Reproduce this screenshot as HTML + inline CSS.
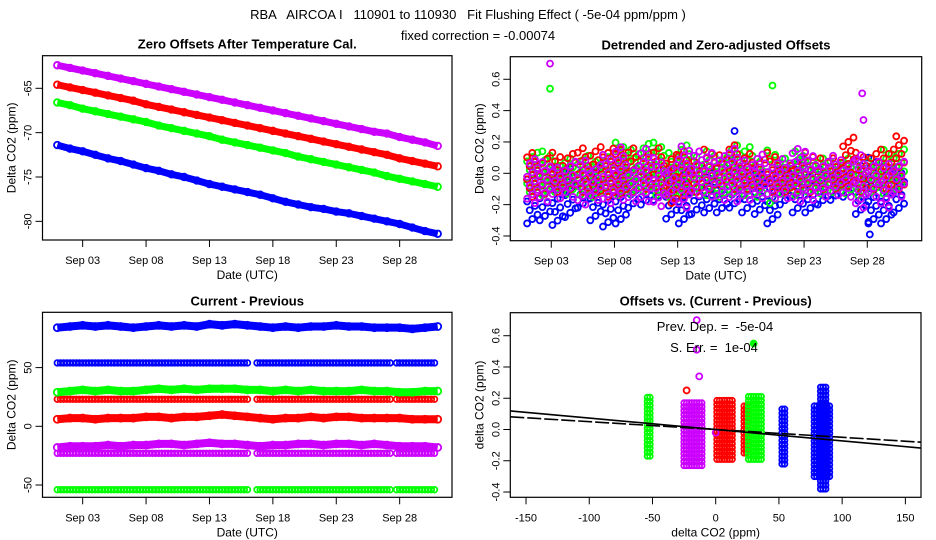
<!DOCTYPE html>
<html><head><meta charset="utf-8"><style>
body{margin:0;background:#fff}
svg{display:block;font-family:"Liberation Sans",sans-serif}
</style></head><body>
<svg id="c" width="936" height="540" viewBox="0 0 936 540">
<text x="468" y="19" text-anchor="middle" font-size="13" style="white-space:pre">RBA   AIRCOA I   110901 to 110930   Fit Flushing Effect ( -5e-04 ppm/ppm )</text>
<text x="478" y="40" text-anchor="middle" font-size="13">fixed correction = -0.00074</text>
</svg>
<script>
// ---- Panel 1 data (daily, Sep 1..Sep 31)
const p1Purple=[-62.4,-62.7,-63.0,-63.3,-63.6,-63.9,-64.2,-64.5,-64.8,-65.1,-65.4,-65.7,-66.0,-66.3,-66.6,-66.9,-67.2,-67.5,-67.8,-68.1,-68.4,-68.7,-69.0,-69.3,-69.6,-69.9,-70.1,-70.5,-70.8,-71.1,-71.5];
const p1Red=[-64.6,-64.9,-65.2,-65.5,-65.8,-66.1,-66.4,-66.8,-67.1,-67.4,-67.7,-68.0,-68.3,-68.6,-68.9,-69.2,-69.5,-69.8,-70.1,-70.4,-70.7,-71.0,-71.3,-71.6,-71.9,-72.2,-72.5,-72.9,-73.2,-73.5,-73.8];
const p1Green=[-66.6,-66.9,-67.3,-67.6,-67.9,-68.2,-68.5,-68.8,-69.2,-69.5,-69.8,-70.1,-70.4,-70.8,-71.1,-71.4,-71.7,-72.0,-72.3,-72.7,-73.0,-73.3,-73.6,-73.9,-74.2,-74.5,-74.9,-75.2,-75.5,-75.8,-76.1];
const p1Blue=[-71.4,-71.8,-72.1,-72.5,-72.9,-73.2,-73.6,-74.0,-74.3,-74.7,-75.0,-75.4,-75.8,-76.1,-76.4,-76.7,-77.0,-77.4,-77.8,-78.1,-78.4,-78.6,-78.9,-79.1,-79.4,-79.7,-80.0,-80.3,-80.7,-81.1,-81.4];
const p1YTicks=[-65,-70,-75,-80];
const dateTicks=[2,7,12,17,22,27];
const dateLabels=["Sep 03","Sep 08","Sep 13","Sep 18","Sep 23","Sep 28"];
// ---- Panel 2 data (daily envelopes)
const p2BlueLo=[-0.32,-0.3,-0.33,-0.28,-0.22,-0.3,-0.34,-0.32,-0.22,-0.2,-0.17,-0.29,-0.32,-0.26,-0.25,-0.25,-0.22,-0.25,-0.26,-0.32,-0.2,-0.25,-0.25,-0.2,-0.17,-0.15,-0.26,-0.32,-0.32,-0.25,-0.22];
const p2BlueHi=[0.08,0.05,0.05,0.03,0.02,0.04,0.05,0.03,0.05,0.04,0.05,0.03,0.05,0.04,0.05,0.03,0.1,0.05,0.04,0.03,0.05,0.1,0.04,0.05,0.04,0.03,0.05,0.1,0.05,0.04,0.05];
const p2GreenLo=[-0.12,-0.14,-0.12,-0.13,-0.14,-0.15,-0.12,-0.14,-0.13,-0.12,-0.14,-0.15,-0.13,-0.12,-0.14,-0.15,-0.13,-0.14,-0.15,-0.19,-0.13,-0.14,-0.12,-0.13,-0.12,-0.13,-0.14,-0.12,-0.13,-0.1,-0.1];
const p2GreenHi=[0.14,0.16,0.08,0.12,0.13,0.1,0.12,0.2,0.15,0.2,0.21,0.15,0.2,0.12,0.15,0.12,0.2,0.17,0.08,0.16,0.1,0.15,0.1,0.12,0.1,0.12,0.08,0.1,0.15,0.17,0.1];
const p2RedLo=[-0.15,-0.13,-0.12,-0.1,-0.12,-0.14,-0.15,-0.13,-0.12,-0.1,-0.12,-0.19,-0.14,-0.12,-0.1,-0.08,-0.1,-0.1,-0.08,-0.12,-0.12,-0.1,-0.12,-0.1,-0.1,-0.08,-0.12,-0.1,-0.1,-0.1,-0.12];
const p2RedHi=[0.13,0.1,0.14,0.14,0.18,0.17,0.17,0.17,0.18,0.15,0.17,0.12,0.14,0.1,0.17,0.13,0.2,0.15,0.1,0.15,0.06,0.08,0.14,0.12,0.1,0.25,0.14,0.13,0.16,0.24,0.14];
const p2PurpleLo=[-0.19,-0.18,-0.16,-0.15,-0.2,-0.17,-0.19,-0.17,-0.18,-0.18,-0.21,-0.17,-0.22,-0.14,-0.15,-0.17,-0.18,-0.17,-0.16,-0.16,-0.16,-0.18,-0.17,-0.15,-0.14,-0.15,-0.22,-0.15,-0.22,-0.15,-0.18];
const p2PurpleHi=[0.1,0.08,0.05,0.08,0.1,0.08,0.12,0.18,0.05,0.17,0.12,0.08,0.18,0.14,0.13,0.12,0.16,0.1,0.12,0.08,0.1,0.18,0.14,0.1,0.12,0.1,0.13,0.1,0.08,0.1,0.15];
const p2OutT=[1.9,1.9,19.5,16.5,26.6,26.7,27.2,27.1];
const p2OutV=[0.7,0.54,0.56,0.27,0.51,0.34,-0.39,-0.31];
const p2OutC=["#c0f","#0f0","#0f0","#00f","#c0f","#c0f","#00f","#00f"];
const p2YTicks=[0.6,0.4,0.2,0.0,-0.2,-0.4];
const p2YLabels=["0.6","0.4","0.2","0.0","-0.2","-0.4"];
// ---- Panel 3 data
const p3BlueTop=[84,85,86,85,86,85,84,85,86,85,86,85,87,86,87,86,85,84,85,84,85,85,86,85,85,84,84,84,83,84,85];
const p3GreenTop=[29,30,31,30,31,30,30,31,32,31,32,31,32,32,32,31,31,30,31,30,31,30,30,30,31,30,30,29,29,30,30];
const p3RedLow=[6,7,7,6,7,7,7,8,8,7,8,8,9,10,9,8,7,6,7,7,8,7,8,8,7,7,7,7,6,6,6];
const p3PurpleTop=[-18,-17,-17,-17,-16,-17,-16,-16,-15,-15,-16,-15,-14,-15,-15,-16,-17,-16,-16,-15,-15,-16,-15,-15,-16,-15,-16,-17,-17,-17,-18];
const p3Levels=[54,23,-54,-23];
const p3LevelColors=["#00f","#f00","#0f0","#c0f"];
const p3YTicks=[50,0,-50];
// ---- Panel 4 data (columns)
const p4ColX=[-53,-18,7,24,31,54,84,85];
const p4ColW=[2,14,12,3,10,3,12,4];
const p4ColLo=[-0.17,-0.23,-0.19,-0.15,-0.19,-0.22,-0.3,-0.38];
const p4ColHi=[0.21,0.19,0.2,0.15,0.22,0.13,0.15,0.27];
const p4ColC=["#0f0","#c0f","#f00","#f00","#0f0","#00f","#00f","#00f"];
const p4OutX=[-15,-15,-13,0,30,-23];
const p4OutY=[0.7,0.51,0.34,-0.02,0.55,0.25];
const p4OutC=["#c0f","#c0f","#c0f","#c0f","#0f0","#f00"];
const p4XTicks=[-150,-100,-50,0,50,100,150];
const p4Slopes=[-0.00073,-0.0005];
const p4YTicks=[0.6,0.4,0.2,0.0,-0.2,-0.4];

const NS="http://www.w3.org/2000/svg";
const svg=document.getElementById('c');
function mk(tag,attrs,parent){const e=document.createElementNS(NS,tag);for(const k in attrs)e.setAttribute(k,attrs[k]);(parent||svg).appendChild(e);return e;}
function grp(name){const g=mk('g',{});


return g;}

function frame(g,x0,x1,y0,y1,title,xlabel,ylabel,xt,xl,xs,yt,yl,ys){
  const b=mk('rect',{x:x0,y:y0,width:x1-x0,height:y1-y0,fill:'none',stroke:'#000','stroke-width':1.2},g);
  
  
  const t=mk('text',{x:(x0+x1)/2,y:y0-7,'text-anchor':'middle','font-size':13,'font-weight':'bold'},g);t.textContent=title;
  
  
  xt.forEach((v,i)=>{const x=xs(v);mk('line',{x1:x,x2:x,y1:y1,y2:y1+7,stroke:'#000'},g);
    const tx=mk('text',{x:x,y:y1+24,'text-anchor':'middle','font-size':11},g);tx.textContent=xl[i];
    
    });
  yt.forEach((v,i)=>{const y=ys(v);mk('line',{x1:x0,x2:x0-7,y1:y,y2:y,stroke:'#000'},g);
    const tx=mk('text',{x:0,y:0,'text-anchor':'middle','font-size':11,transform:`translate(${x0-11},${y}) rotate(-90)`},g);tx.textContent=yl[i];
    
    });
  const xa=mk('text',{x:(x0+x1)/2,y:y1+39,'text-anchor':'middle','font-size':12},g);xa.textContent=xlabel;
  
  
  const ya=mk('text',{x:0,y:0,'text-anchor':'middle','font-size':12,transform:`translate(${x0-27},${(y0+y1)/2}) rotate(-90)`},g);ya.textContent=ylabel;
  
  
}
function circ(g,x,y,c,r,fill){const e=mk('circle',{cx:x,cy:y,r:r||3,fill:fill?c:'none',stroke:c,'stroke-width':1.8},g);return e;}

// Panel 1
(function(){
 const g=grp('panel-zero-offsets');
 const xs=t=>57.3+t*12.68, ys=v=>88.3+(-65-v)*8.87;
 frame(g,42.5,452,55.7,240,'Zero Offsets After Temperature Cal.','Date (UTC)','Delta CO2 (ppm)',dateTicks,dateLabels,xs,p1YTicks,p1YTicks.map(String),ys);
 [[p1Blue,'#00f'],[p1Green,'#0f0'],[p1Red,'#f00'],[p1Purple,'#c0f']].forEach(([arr,c])=>{
   const s=grp('series-'+c);g.appendChild(s);
   const pl=mk('polyline',{points:arr.map((v,i)=>xs(i)+','+ys(v)).join(' '),fill:'none',stroke:c,'stroke-width':7,'stroke-linejoin':'round'},s);
   
   
   arr.forEach((v,i)=>{const e=circ(s,xs(i),ys(v),c,3.3);
     
     });
 });
})();
// Panel 2
(function(){
 const g=grp('panel-detrended');
 const xs=t=>526+t*12.64, ys=v=>173.3-v*156.7;
 frame(g,510.3,921.7,56.7,240.7,'Detrended and Zero-adjusted Offsets','Date (UTC)','Delta CO2 (ppm)',dateTicks,dateLabels,xs,p2YTicks,p2YLabels,ys);
 [[p2BlueLo,p2BlueHi,'#00f'],[p2GreenLo,p2GreenHi,'#0f0'],[p2RedLo,p2RedHi,'#f00'],[p2PurpleLo,p2PurpleHi,'#c0f']].forEach(([lo,hi,c],si)=>{
   const s=grp('series-'+c);g.appendChild(s);
   lo.forEach((l,i)=>{
     if(i>29)return;
     let k=0;
     for(let v=l;v<=hi[i]+1e-9;v+=0.028){
       const dx=((k*2+si)%5-2)*2.6;k++;
       const e=circ(s,xs(i+0.5)+dx,ys(v),c,3);
       
       
     }});
 });
 p2OutT.forEach((t,i)=>{const e=circ(g,xs(t),ys(p2OutV[i]),p2OutC[i],3);
   
   });
})();
// Panel 3
(function(){
 const g=grp('panel-current-previous');
 const xs=t=>57.3+t*12.68, ys=v=>426.3-v*1.174;
 frame(g,42.5,452,312.3,497.3,'Current - Previous','Date (UTC)','Delta CO2 (ppm)',dateTicks,dateLabels,xs,p3YTicks,p3YTicks.map(String),ys);
 p3Levels.forEach((lv,li)=>{
   const s=grp('constant-series');g.appendChild(s);
   for(let t=0;t<=29.95;t+=0.25){
     if((t>15.2&&t<15.6)||(t>26.3&&t<26.7))continue;
     const e=circ(s,xs(t),ys(lv),p3LevelColors[li],2.8);
     
     
   }});
 [[p3BlueTop,'#00f'],[p3GreenTop,'#0f0'],[p3RedLow,'#f00'],[p3PurpleTop,'#c0f']].forEach(([arr,c])=>{
   const s=grp('noisy-series');g.appendChild(s);
   const pl=mk('polyline',{points:arr.map((v,i)=>xs(i)+','+ys(v)).join(' '),fill:'none',stroke:c,'stroke-width':8,'stroke-linejoin':'round'},s);
   
   
   arr.forEach((v,i)=>{const e=circ(s,xs(i),ys(v),c,3.5);
     
     });
 });
})();
// Panel 4
(function(){
 const g=grp('panel-offsets-vs-diff');
 const xs=v=>715.7+v*1.2645, ys=v=>429.5-v*156.3;
 frame(g,510.3,921,312.7,497.3,'Offsets vs. (Current - Previous)','delta CO2 (ppm)','delta CO2 (ppm)',p4XTicks,p4XTicks.map(String),xs,p4YTicks,p2YLabels,ys);
 p4ColX.forEach((cx,i)=>{
   const s=grp('column-cluster');g.appendChild(s);
   for(let x=cx-p4ColW[i]/2;x<=cx+p4ColW[i]/2+1e-9;x+=2)
     for(let y=p4ColLo[i];y<=p4ColHi[i]+1e-9;y+=0.025){
       const e=circ(s,xs(x),ys(y),p4ColC[i],2.8);
       
       
     }});
 p4OutX.forEach((x,i)=>{const e=circ(g,xs(x),ys(p4OutY[i]),p4OutC[i],3,i==4);
   
   });
 const clip=mk('clipPath',{id:'cp4'},svg);mk('rect',{x:510.3,y:312.7,width:410.7,height:184.6},clip);
 p4Slopes.forEach((m,i)=>{
   const l=mk('line',{x1:510.3,x2:921,y1:ys(m*(-162.5)),y2:ys(m*162.3),stroke:'#000','stroke-width':1.6,'stroke-dasharray':i?'14,3':'none','clip-path':'url(#cp4)'},g);
   
   
 });
 const t1=mk('text',{x:715,y:331,'text-anchor':'middle','font-size':13,style:'white-space:pre'},g);t1.textContent='Prev. Dep. =  -5e-04';
 
 
 const t2=mk('text',{x:714,y:352,'text-anchor':'middle','font-size':13,style:'white-space:pre'},g);t2.textContent='S. Err. =  1e-04';
 
 
})();
</script>
</body></html>
